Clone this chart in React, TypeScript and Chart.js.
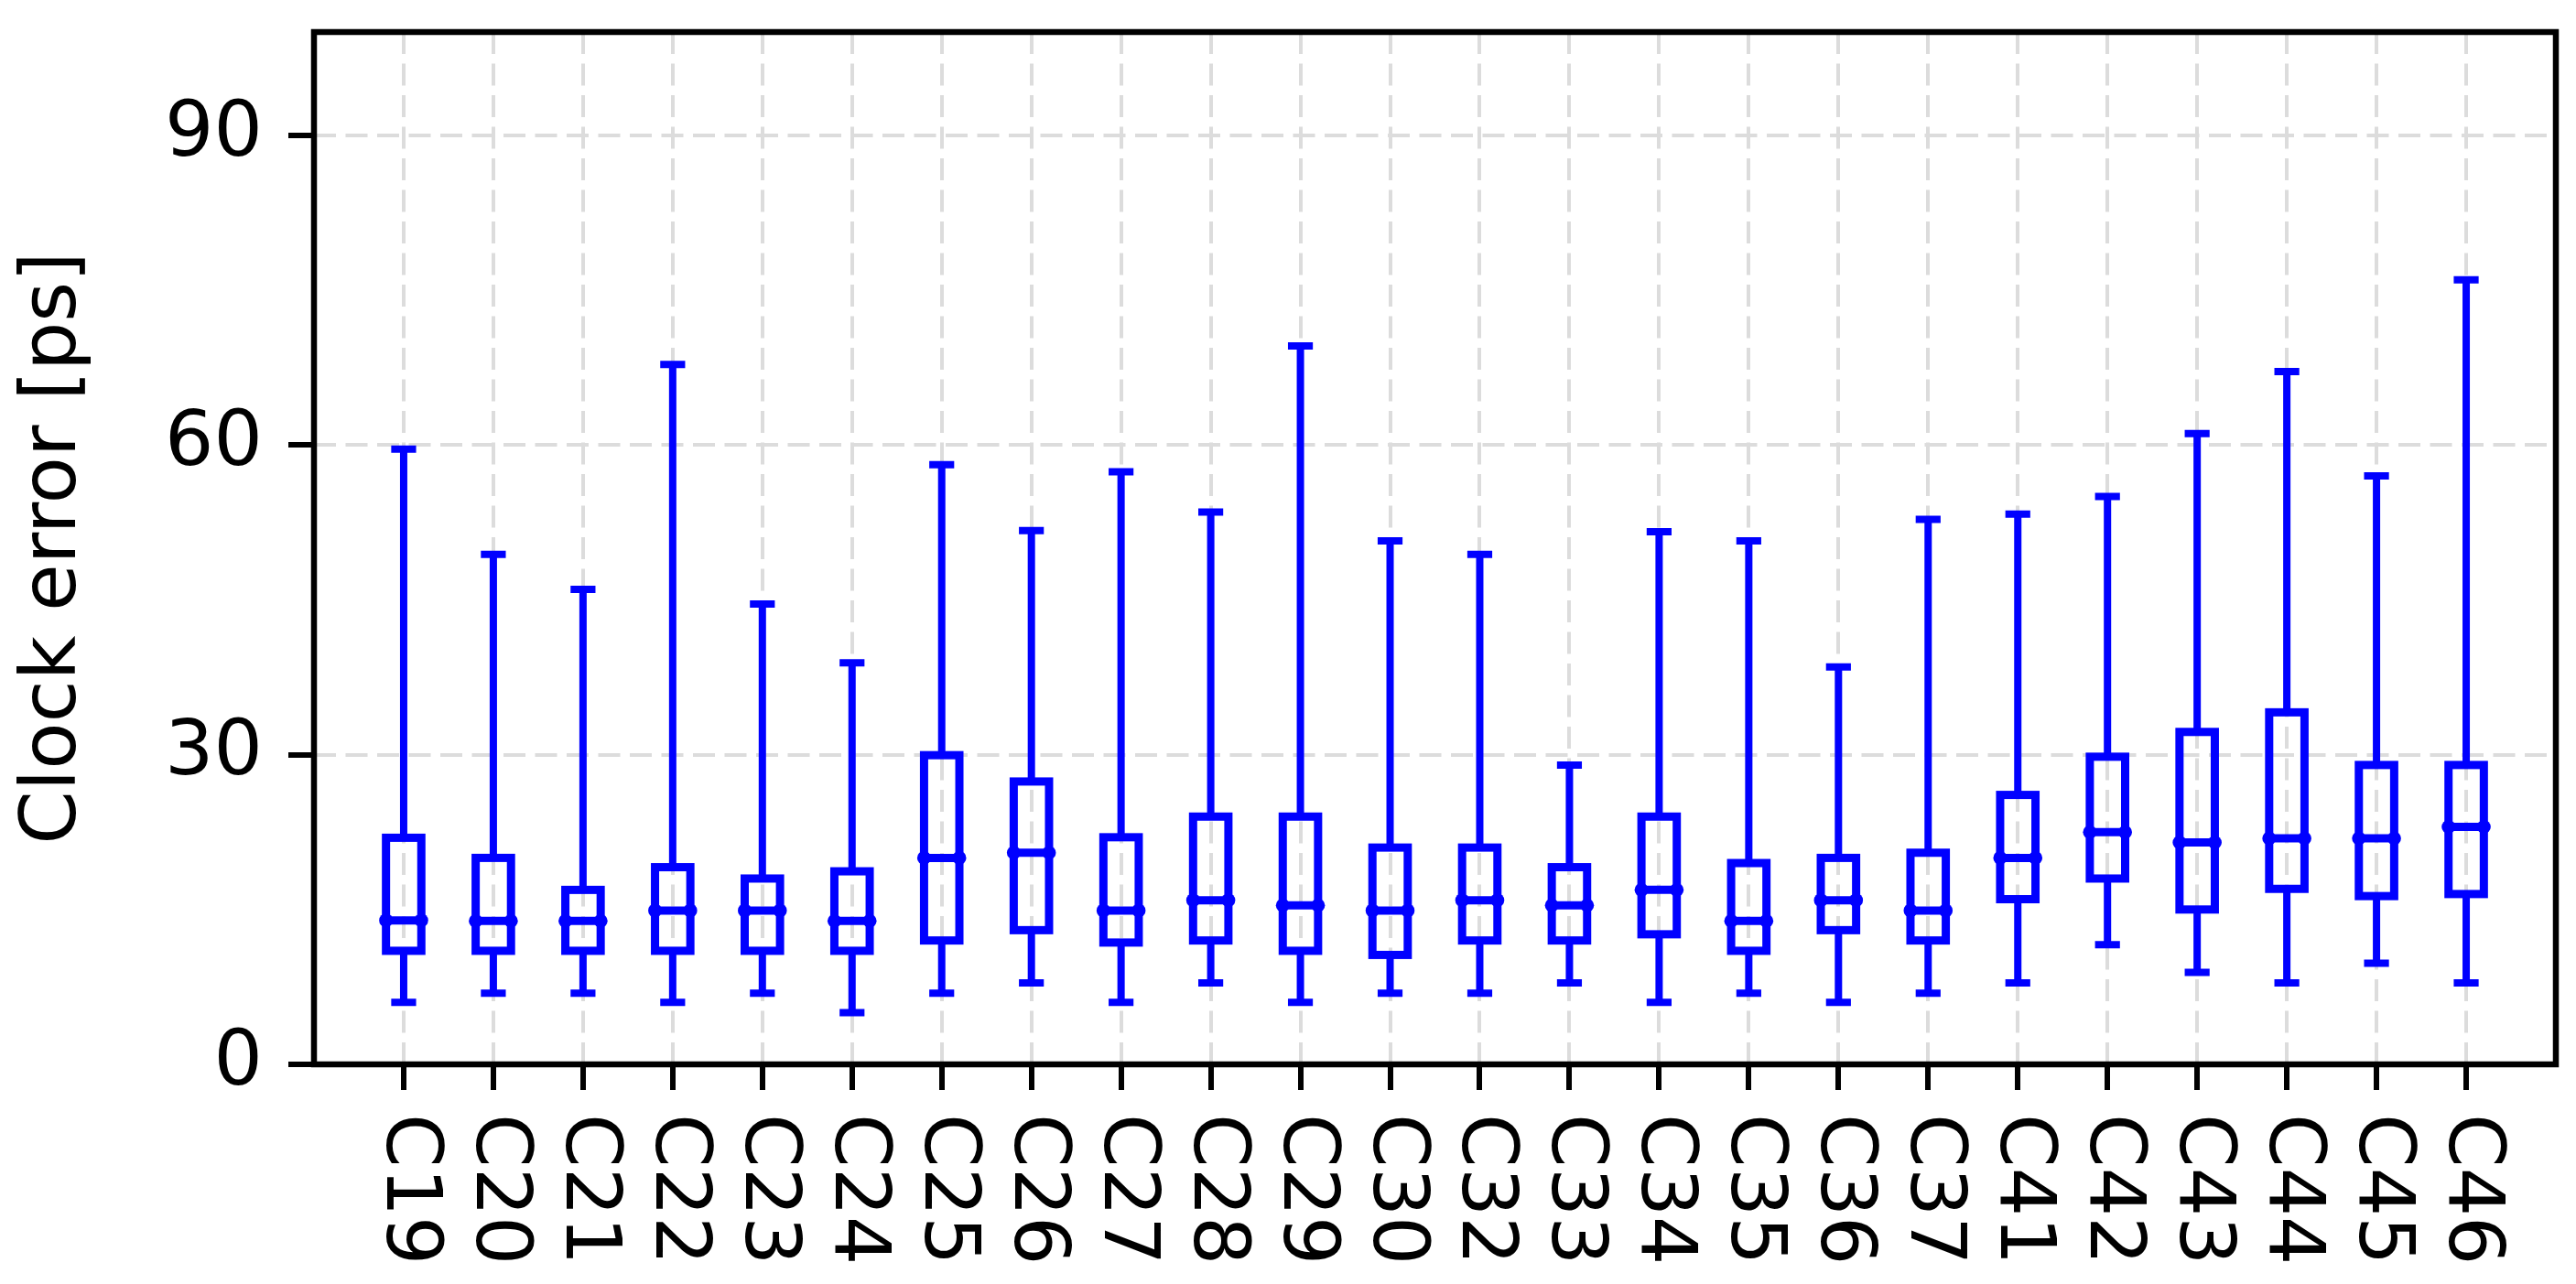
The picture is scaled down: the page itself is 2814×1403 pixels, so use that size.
import React, { useEffect, useRef } from 'react';
import { Chart, registerables } from 'chart.js';

Chart.register(...registerables);

// ---- data ----
const categories = ['C19', 'C20', 'C21', 'C22', 'C23', 'C24', 'C25', 'C26', 'C27', 'C28', 'C29', 'C30', 'C32', 'C33', 'C34', 'C35', 'C36', 'C37', 'C41', 'C42', 'C43', 'C44', 'C45', 'C46'];
const whiskerLow = [6.0, 6.9, 6.9, 6.0, 6.9, 5.0, 6.9, 7.9, 6.0, 7.9, 6.0, 6.9, 6.9, 7.9, 6.0, 6.9, 6.0, 6.9, 7.9, 11.6, 8.9, 7.9, 9.8, 7.9];
const q1 = [11.0, 11.0, 11.0, 11.0, 11.0, 11.0, 12.0, 13.0, 11.8, 12.0, 11.0, 10.6, 12.0, 12.0, 12.6, 11.0, 13.0, 12.0, 16.0, 18.0, 15.0, 17.0, 16.3, 16.5];
const medians = [13.95, 13.9, 13.9, 14.9, 14.9, 13.9, 20.0, 20.5, 14.9, 15.9, 15.4, 14.9, 15.9, 15.4, 16.9, 13.9, 15.9, 14.9, 20.0, 22.5, 21.5, 21.9, 21.9, 23.0];
const q3 = [21.95, 20.0, 16.9, 19.1, 18.0, 18.7, 29.95, 27.4, 22.0, 24.0, 24.0, 21.0, 21.0, 19.1, 24.0, 19.5, 20.0, 20.5, 26.1, 29.8, 32.2, 34.1, 29.0, 29.0];
const whiskerHigh = [59.6, 49.4, 46.0, 67.8, 44.6, 38.9, 58.1, 51.7, 57.4, 53.5, 69.6, 50.7, 49.4, 29.0, 51.6, 50.7, 38.5, 52.8, 53.3, 55.0, 61.1, 67.1, 57.0, 76.0];
const yTicks = [0, 30, 60, 90];
const yTitle = 'Clock error [ps]';

const FONT = "'DejaVu Sans', 'Liberation Sans', sans-serif";
const BLUE = '#0000ff';
const FS = 84;

export default function App() {
  const ref = useRef<HTMLCanvasElement>(null);

  useEffect(() => {
    const canvas = ref.current!;

    const boxPlugin = {
      id: 'boxplotDraw',
      afterDatasetsDraw(chart: any) {
        const { ctx } = chart;
        const x = chart.scales.x;
        const y = chart.scales.y;
        ctx.save();
        ctx.strokeStyle = BLUE;
        ctx.fillStyle = BLUE;
        ctx.lineCap = 'butt';
        categories.forEach((_, i) => {
          const pos = i + 1;
          const cx = x.getPixelForValue(pos);
          const bl = x.getPixelForValue(pos - 0.197);
          const br = x.getPixelForValue(pos + 0.197);
          const cl = x.getPixelForValue(pos - 0.098);
          const cr = x.getPixelForValue(pos + 0.098);
          const yLo = y.getPixelForValue(whiskerLow[i]);
          const yQ1 = y.getPixelForValue(q1[i]);
          const yMed = y.getPixelForValue(medians[i]);
          const yQ3 = y.getPixelForValue(q3[i]);
          const yHi = y.getPixelForValue(whiskerHigh[i]);

          // whiskers
          ctx.lineWidth = 8;
          ctx.beginPath();
          ctx.moveTo(cx, yQ1);
          ctx.lineTo(cx, yLo);
          ctx.moveTo(cx, yQ3);
          ctx.lineTo(cx, yHi);
          ctx.stroke();
          // caps
          ctx.lineCap = 'square';
          ctx.beginPath();
          ctx.moveTo(cl, yLo);
          ctx.lineTo(cr, yLo);
          ctx.moveTo(cl, yHi);
          ctx.lineTo(cr, yHi);
          ctx.stroke();
          ctx.lineCap = 'butt';
          // box
          ctx.lineWidth = 9;
          ctx.lineJoin = 'miter';
          ctx.strokeRect(bl, yQ3, br - bl, yQ1 - yQ3);
          // median with end markers
          ctx.lineWidth = 9;
          ctx.beginPath();
          ctx.moveTo(bl, yMed);
          ctx.lineTo(br, yMed);
          ctx.stroke();
          ctx.beginPath();
          ctx.arc(bl, yMed, 7.5, 0, Math.PI * 2);
          ctx.fill();
          ctx.beginPath();
          ctx.arc(br, yMed, 7.5, 0, Math.PI * 2);
          ctx.fill();
        });
        ctx.restore();
      },
      afterDraw(chart: any) {
        const { ctx, chartArea } = chart;
        const x = chart.scales.x;
        ctx.save();
        // frame
        ctx.strokeStyle = '#000';
        ctx.lineWidth = 6.5;
        ctx.lineJoin = 'miter';
        ctx.strokeRect(chartArea.left, chartArea.top, chartArea.right - chartArea.left, chartArea.bottom - chartArea.top);
        // x labels, rotated clockwise (read top to bottom)
        ctx.fillStyle = '#000';
        ctx.font = `${FS}px ${FONT}`;
        ctx.textAlign = 'left';
        ctx.textBaseline = 'alphabetic';
        categories.forEach((label, i) => {
          const px = x.getPixelForValue(i + 1);
          ctx.save();
          ctx.translate(px - 18, chartArea.bottom + 54);
          ctx.rotate(Math.PI / 2);
          ctx.fillText(label, 0, 0);
          ctx.restore();
        });
        // y title
        ctx.save();
        ctx.translate(74, (chartArea.top + chartArea.bottom) / 2);
        ctx.rotate(-Math.PI / 2);
        ctx.textAlign = 'center';
        ctx.fillText(yTitle, 0, 0);
        ctx.restore();
        ctx.restore();
      },
    };

    const gridCommon = {
      color: '#dcdcdc',
      lineWidth: 4,
      offset: false,
      tickColor: '#000',
      tickWidth: 6,
      tickLength: 28,
      tickBorderDash: [],
    };

    const chart = new Chart(canvas, {
      type: 'scatter',
      data: { datasets: [] },
      options: {
        responsive: false,
        animation: false,
        events: [],
        layout: { padding: { top: 27, right: 14, left: 0, bottom: 0 } },
        plugins: { legend: { display: false }, tooltip: { enabled: false }, title: { display: false } },
        scales: {
          x: {
            type: 'linear',
            offset: false,
            min: 0,
            max: 25,
            afterBuildTicks: (s: any) => {
              s.ticks = categories.map((_, i) => ({ value: i + 1 }));
            },
            afterFit: (s: any) => {
              s.height = 232;
              s.paddingLeft = 0;
              s.paddingRight = 0;
            },
            grid: gridCommon,
            border: { display: false, dash: [24, 10.5] },
            ticks: { display: false },
          },
          y: {
            type: 'linear',
            offset: false,
            min: 0,
            max: 100,
            afterBuildTicks: (s: any) => {
              s.ticks = yTicks.map((v) => ({ value: v }));
            },
            afterFit: (s: any) => {
              s.width = 335;
              s.paddingTop = 0;
              s.paddingBottom = 0;
            },
            grid: gridCommon,
            border: { display: false, dash: [24, 10.5] },
            ticks: {
              color: '#000',
              font: { family: FONT, size: FS },
              padding: 28,
              callback: (v: any) => String(v),
            },
          },
        },
      },
      plugins: [boxPlugin],
    } as any);

    return () => chart.destroy();
  }, []);

  return <canvas ref={ref} width={2798} height={1387} style={{ display: 'block' }} />;
}
